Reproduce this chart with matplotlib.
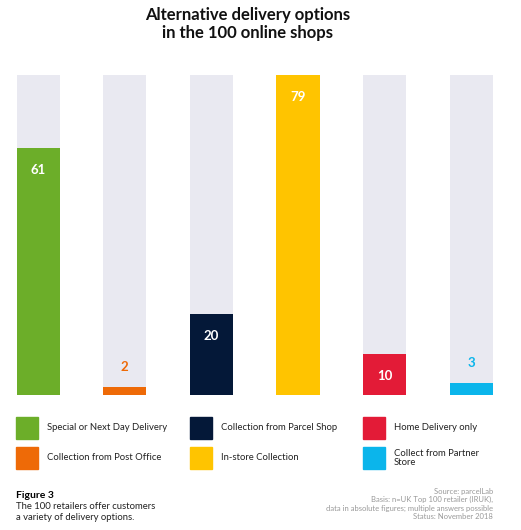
import matplotlib.pyplot as plt

# Daten
categories = ['Special or Next Day Delivery', 'Collection from Post Office',
              'Collection from Parcel Shop', 'In-store Collection',
              'Home Delivery only', 'Collect from Partner\nStore']
values = [61, 2, 20, 79, 10, 3]
colors = ['#6CAE29', '#EE6A07', '#041838', '#FFC400', '#E31B37', '#0BB5EB']
max_value = 79

plt.rcParams['font.family'] = ['Lato', 'DejaVu Sans']

fig = plt.figure(figsize=(5.21, 5.30), dpi=100)
ax = fig.add_axes([16.5 / 521, 1 - 395 / 530, 476.5 / 521, 320 / 530])

x = range(len(values))
ax.bar(x, [max_value] * len(values), width=0.5, color='#E9E9F1')
ax.bar(x, values, width=0.5, color=colors)

for i, v in enumerate(values):
    if v > 8:
        ax.annotate(str(v), (i, v), xytext=(0, -22), textcoords='offset pixels',
                    ha='center', va='center', color='white', fontweight='bold', fontsize=9.5)
    else:
        ax.annotate(str(v), (i, v), xytext=(0, 20), textcoords='offset pixels',
                    ha='center', va='center', color=colors[i], fontweight='bold', fontsize=9.5)

ax.set_xlim(-0.25, 5.25)
ax.set_ylim(0, max_value)
ax.axis('off')

# Titel
fig.text(247.5 / 521, 1 - 15 / 530, 'Alternative delivery options', ha='center', va='center',
         fontsize=12, fontweight='bold', color='#111111')
fig.text(247.5 / 521, 1 - 33 / 530, 'in the 100 online shops', ha='center', va='center',
         fontsize=12, fontweight='bold', color='#111111')

# Legende
col_x = [16, 190, 363]
row_y = [428, 458]
for i, (cat, c) in enumerate(zip(categories, colors)):
    cx = col_x[i // 2]
    cy = row_y[i % 2]
    fig.patches.append(plt.Rectangle((cx / 521, 1 - (cy + 11) / 530), 22 / 521, 22 / 530,
                                     transform=fig.transFigure, color=c))
    fig.text((cx + 31) / 521, 1 - cy / 530, cat, ha='left', va='center',
             fontsize=6.8, color='#222222', linespacing=1.1)

# Fussnote
fig.text(16 / 521, 1 - 495 / 530, 'Figure 3', ha='left', va='center',
         fontsize=7.5, fontweight='bold')
fig.text(16 / 521, 1 - 512 / 530, 'The 100 retailers offer customers\na variety of delivery options.',
         ha='left', va='center', fontsize=6.8, color='#222222', linespacing=1.15)
fig.text(493 / 521, 1 - 504 / 530,
         'Source: parcelLab\nBasis: n=UK Top 100 retailer (IRUK),\n'
         'data in absolute figures; multiple answers possible\nStatus: November 2018',
         ha='right', va='center', fontsize=5.5, color='#999999', linespacing=1.25)

plt.savefig('out.png', dpi=100)
